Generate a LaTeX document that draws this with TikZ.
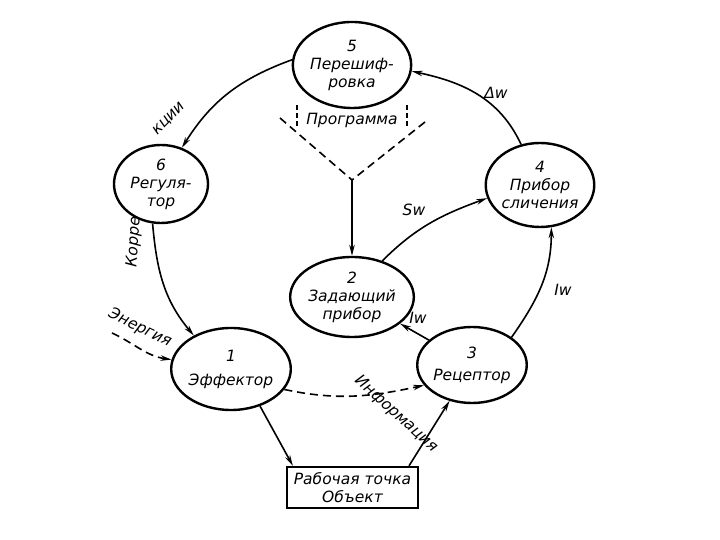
\documentclass[tikz,border=0pt]{standalone}
\usepackage{fontspec}
\setmainfont{DejaVu Sans}
\usetikzlibrary{shapes.geometric,arrows.meta}
\newcommand\lbl{\fontsize{15.5}{18}\selectfont\itshape}
\begin{document}
\begin{tikzpicture}[x=1pt,y=1pt,
  blob/.style={ellipse, draw, line width=2.4pt, inner sep=0pt, align=center, font=\lbl},
  objbox/.style={rectangle, draw, line width=2.4pt, inner sep=0pt, align=center, font=\lbl},
  conn/.style={line width=1.6pt, -{Stealth[length=11pt,width=5.5pt]}},
  dsh/.style={conn, dash pattern=on 8pt off 5pt},
  plain/.style={line width=1.6pt, dash pattern=on 8pt off 5pt},
  lab/.style={font=\lbl, inner sep=0pt}]
\useasboundingbox (0,0) rectangle (720,540);
\fill[white] (0,0) rectangle (720,540);

\node[blob, minimum width=94pt, minimum height=86pt] (n5) at (352,475) {5\\Перешиф-\\ровка};
\node[blob, minimum width=94pt, minimum height=78pt] (n6) at (161,356) {6\\Регуля-\\тор};
\node[blob, minimum width=86pt, minimum height=84pt] (n4) at (540,355) {4\\Прибор\\сличения};
\node[blob, minimum width=90pt, minimum height=80pt] (n2) at (352,243) {2\\Задающий\\прибор};
\node[blob, minimum width=92pt, minimum height=82pt] (n1) at (231,171) {1\\[6pt]Эффектор};
\node[blob, minimum width=90pt, minimum height=76pt] (n3) at (472,175) {3\\[4pt]Рецептор};
\node[objbox, minimum width=131pt, minimum height=41pt] (box) at (352.5,52.5) {Рабочая точка\\Объект};

% main loop
\draw[conn] (n5.175) to[out=200,in=58] (n6.60);
\draw[conn] (n6.258) to[out=-85,in=130] (n1.138);
\draw[conn] (n4.115) to[out=115,in=-12] (n5.354);
\draw[conn] (n2.50) to[out=45,in=200] (n4.194);
\draw[conn] (n3.35) to[out=55,in=-90] (n4.285);
\draw[conn] (n3.150) -- (n2.331);
\draw[conn] (n1.-52) -- (box.160);
\draw[conn] (box.21) -- (n3.238);
\draw[dsh] (n1.-21) to[out=-12,in=192] (n3.203);

% energy
\coordinate (en) at (112,207);
\draw[dsh] (en) to[out=-25,in=172] (n1.171);

% programme funnel
\coordinate (v) at (352,360);
\coordinate (pl) at (280,422);
\coordinate (pr) at (425,418);
\draw[plain] (pl) -- (v);
\draw[plain] (pr) -- (v);
\coordinate (tl1) at (297,435); \coordinate (tl2) at (297,412);
\coordinate (tr1) at (407,435); \coordinate (tr2) at (407,412);
\draw[plain, dash pattern=on 5pt off 3pt] (tl1) -- (tl2);
\draw[plain, dash pattern=on 5pt off 3pt] (tr1) -- (tr2);
\draw[conn] (v) -- (n2.north);

% labels
\node[lab] (lprog) at (352,420) {Программа};
\node[lab, rotate=46] (lkcii) at (169,421) {кции};
\node[lab, rotate=86] (lkorr) at (134,298) {Корре};
\node[lab, rotate=-26] (lenerg) at (140,212) {Энергия};
\node[lab, rotate=-42] (linf) at (396,126) {Информация};
\node[lab] (liw1) at (418,222) {Iw};
\node[lab] (lsw) at (414,330) {Sw};
\node[lab] (liw2) at (563,250) {Iw};
\node[lab] (ldw) at (496,447) {Δw};
\end{tikzpicture}
\end{document}
